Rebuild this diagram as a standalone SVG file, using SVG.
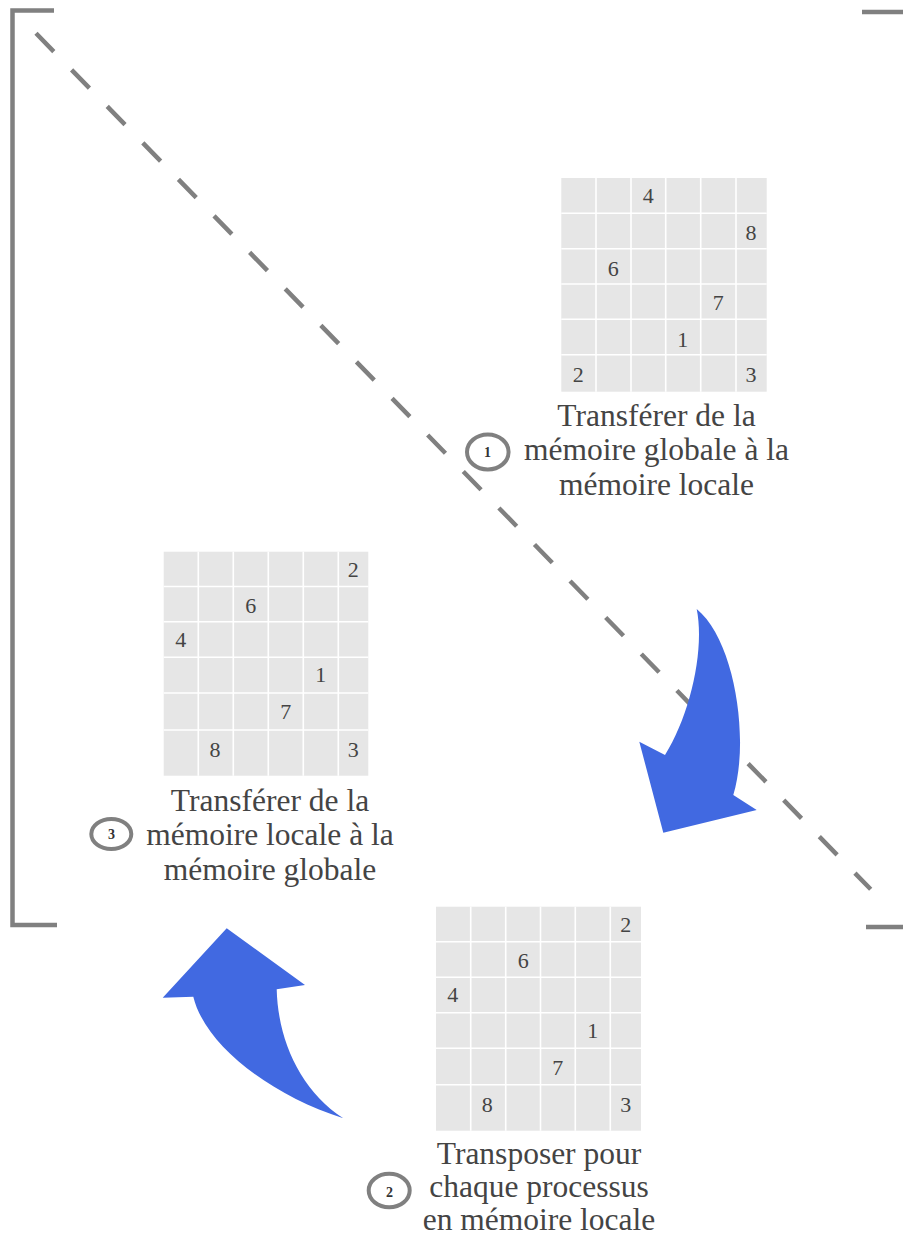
<svg xmlns="http://www.w3.org/2000/svg" width="903" height="1243" viewBox="0 0 903 1243">
<style>
.bg{fill:#e6e6e6}
.gl{stroke:#ffffff;stroke-width:1.6;fill:none}
.num{font-family:"Liberation Serif",serif;font-size:22px;fill:#444444;text-anchor:middle}
.lbl{font-family:"Liberation Serif",serif;font-size:31.5px;fill:#444444;text-anchor:middle}
.badge{fill:none;stroke:#808080;stroke-width:4}
.bnum{font-family:"Liberation Serif",serif;font-size:14px;font-weight:bold;fill:#333333;text-anchor:middle}
.frame{stroke:#808080;stroke-width:4.5;fill:none}
.arrow{fill:#4169e1}
</style>
<rect width="903" height="1243" fill="#ffffff"/>
<g id="frame">
<path class="frame" d="M54,10.5 H12.5 V925 H57"/>
<path class="frame" d="M862,12 H903"/>
<path class="frame" d="M866,927 H903"/>
</g>
<g id="connectors">
<line x1="36" y1="33.3" x2="870.7" y2="889.3" stroke="#808080" stroke-width="4.5" stroke-dasharray="25.5 25.5"/>
</g>
<g id="grid1">
<rect class="bg" x="561.3" y="178" width="205.4" height="213.7"/>
<path class="gl" d="M596,178V391.7M631,178V391.7M665.7,178V391.7M700.7,178V391.7M736,178V391.7M561.3,213.3H766.7M561.3,248.7H766.7M561.3,284H766.7M561.3,319.3H766.7M561.3,354.7H766.7"/>
<text class="num" x="648.3" y="203.3">4</text>
<text class="num" x="751" y="240">8</text>
<text class="num" x="613.3" y="276">6</text>
<text class="num" x="718.3" y="310">7</text>
<text class="num" x="682.7" y="346.7">1</text>
<text class="num" x="578.3" y="382.3">2</text>
<text class="num" x="751" y="382.3">3</text>
</g>
<g id="label1">
<text class="lbl" x="656.5" y="425.5">Transférer de la</text>
<text class="lbl" x="656.5" y="460">mémoire globale à la</text>
<text class="lbl" x="656.5" y="494.5">mémoire locale</text>
<ellipse class="badge" cx="487.8" cy="452" rx="20.8" ry="17.5"/>
<text class="bnum" x="487.5" y="457.3">1</text>
</g>
<g id="grid2">
<rect class="bg" x="163.7" y="551.7" width="204.6" height="224"/>
<path class="gl" d="M198.3,551.7V775.7M233.3,551.7V775.7M268.3,551.7V775.7M303.3,551.7V775.7M338.3,551.7V775.7M163.7,586.5H368.3M163.7,621.7H368.3M163.7,657.2H368.3M163.7,693H368.3M163.7,730H368.3"/>
<text class="num" x="353.3" y="576.7">2</text>
<text class="num" x="250.7" y="613.3">6</text>
<text class="num" x="180.7" y="646.7">4</text>
<text class="num" x="320.7" y="681.7">1</text>
<text class="num" x="285.7" y="719">7</text>
<text class="num" x="215" y="756.7">8</text>
<text class="num" x="353.3" y="756.7">3</text>
</g>
<g id="label3">
<text class="lbl" x="270" y="811">Transférer de la</text>
<text class="lbl" x="270" y="845">mémoire locale à la</text>
<text class="lbl" x="270" y="879.5">mémoire globale</text>
<ellipse class="badge" cx="111.3" cy="834" rx="20" ry="15"/>
<text class="bnum" x="111.5" y="839.3">3</text>
</g>
<g id="grid3">
<rect class="bg" x="436" y="906.7" width="205" height="224"/>
<path class="gl" d="M470.7,906.7V1130.7M505.7,906.7V1130.7M540.5,906.7V1130.7M575.3,906.7V1130.7M610.3,906.7V1130.7M436,941.7H641M436,977.3H641M436,1012.7H641M436,1048.3H641M436,1084.7H641"/>
<text class="num" x="625.7" y="932.3">2</text>
<text class="num" x="523.3" y="968.3">6</text>
<text class="num" x="452.7" y="1001.7">4</text>
<text class="num" x="592.7" y="1038.3">1</text>
<text class="num" x="557.7" y="1075">7</text>
<text class="num" x="487.3" y="1111.7">8</text>
<text class="num" x="625.7" y="1111.7">3</text>
</g>
<g id="label2">
<text class="lbl" x="539" y="1164">Transposer pour</text>
<text class="lbl" x="539" y="1197">chaque processus</text>
<text class="lbl" x="539" y="1230">en mémoire locale</text>
<ellipse class="badge" cx="389.2" cy="1190.5" rx="20.5" ry="16.8"/>
<text class="bnum" x="389.5" y="1196.5">2</text>
</g>
<g id="arrow-down">
<path class="arrow" d="M696.7,609 C735,640 750,740 733.3,795 L756.7,810 L663.3,832.7 L639.3,741.7 L665,755 C690,715 705,650 696.7,609 Z"/>
</g>
<g id="arrow-up">
<path class="arrow" d="M226.7,928.3 L305,985 L276.7,989.3 C278,1040 300,1090 343.3,1118.3 C270,1095 205,1045 193.3,996.7 L162.7,997.7 Z"/>
</g>
</svg>
